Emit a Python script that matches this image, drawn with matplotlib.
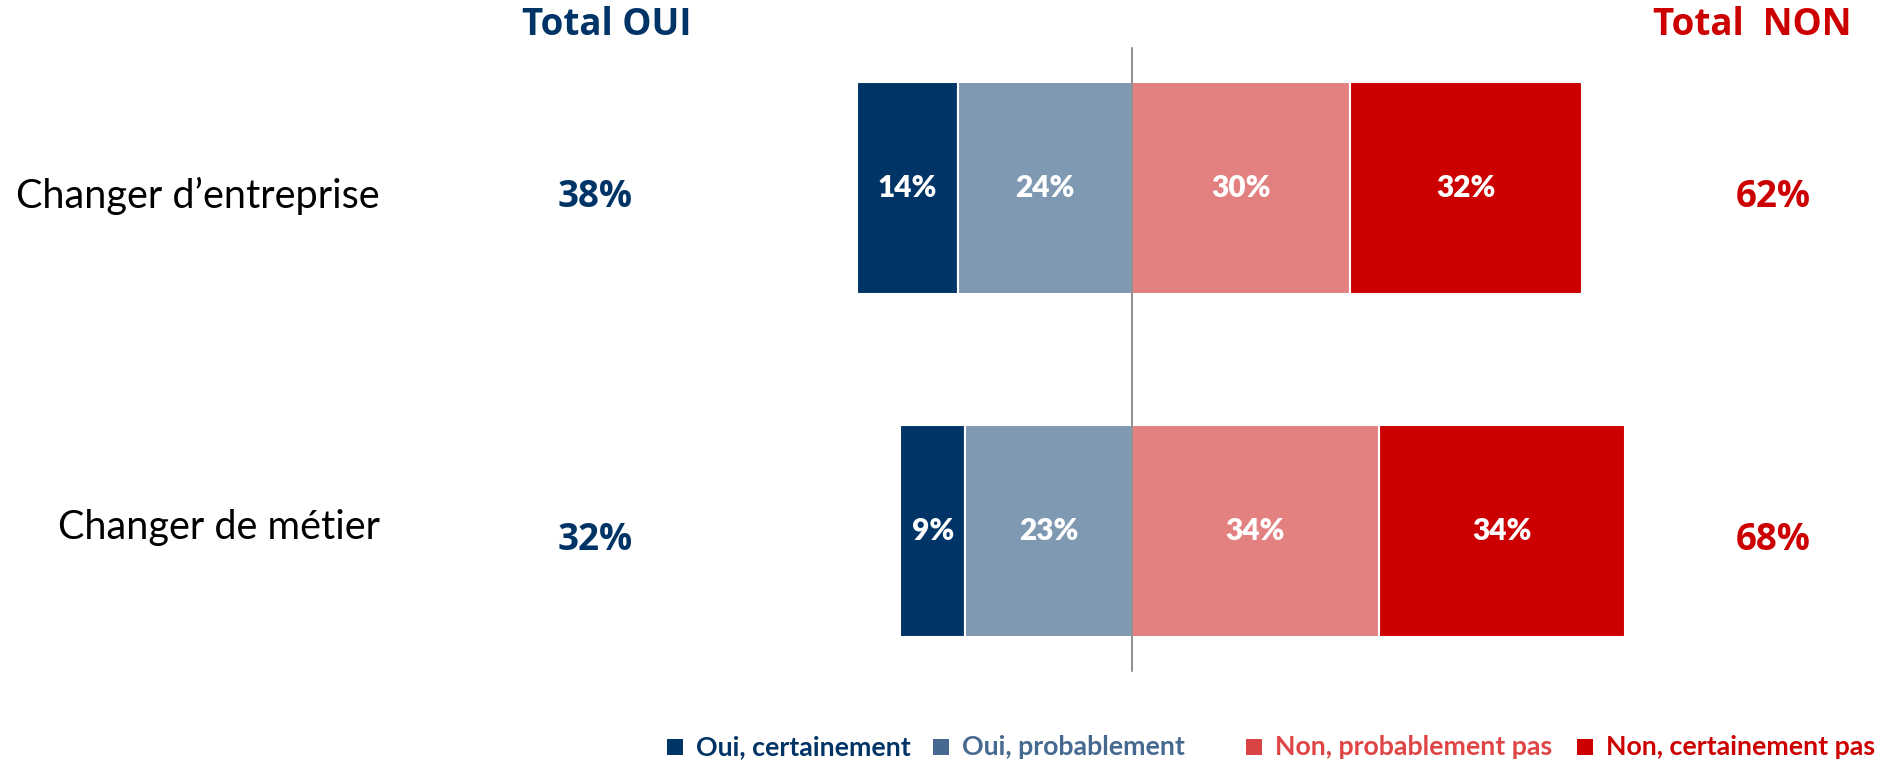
import matplotlib
matplotlib.use("Agg")
import matplotlib.pyplot as plt
from matplotlib.patches import Rectangle
import numpy as np

categories = ["Changer d’entreprise", "Changer de métier"]
oui_cert = np.array([14, 9])
oui_prob = np.array([24, 23])
non_prob = np.array([30, 34])
non_cert = np.array([32, 34])
total_oui = oui_cert + oui_prob
total_non = non_prob + non_cert

legend_labels = ["Oui, certainement", "Oui, probablement",
                 "Non, probablement pas", "Non, certainement pas"]

NAVY = "#003466"
BLUEGREY = "#7f99b2"
PINK = "#e38080"
RED = "#cc0000"

W, H = 1892, 765
fig = plt.figure(figsize=(W / 100, H / 100), dpi=100)
ax = fig.add_axes([0, 0, 1, 1])

# pixel layout: center line at x=1132, 7.25 px per %, rows at y=188 and 531
cx, ppp = 1132, 7.25
ax.set_xlim(-cx / ppp, (W - cx) / ppp)
ax.set_ylim((H - 188) / 343, -188 / 343)
ax.axis("off")

y = np.arange(len(categories))
h = 0.618
ax.barh(y, oui_cert, left=-(oui_cert + oui_prob), height=h, color=NAVY, edgecolor="white", linewidth=1.5)
ax.barh(y, oui_prob, left=-oui_prob, height=h, color=BLUEGREY, edgecolor="white", linewidth=1.5)
ax.barh(y, non_prob, left=0, height=h, color=PINK, edgecolor="white", linewidth=1.5)
ax.barh(y, non_cert, left=non_prob, height=h, color=RED, edgecolor="white", linewidth=1.5)

ax.plot([0, 0], [-0.408, 1.408], color="#707070", lw=1.1, zorder=5)

lab_font = dict(family="Lato", fontweight="heavy", fontsize=21.5, color="white", ha="center", va="center")
for i in y:
    segs = [(-(oui_cert[i] + oui_prob[i]), oui_cert[i]), (-oui_prob[i], oui_prob[i]),
            (0, non_prob[i]), (non_prob[i], non_cert[i])]
    for left, v in segs:
        ax.text(left + v / 2, i, f"{v}%", **lab_font)


def fx(px):
    return px / W


def fy(py):
    return 1 - py / H


bold_fam = ["Open Sans", "DejaVu Sans"]

# headers
fig.text(fx(607), fy(25), "Total OUI", family=bold_fam, fontweight="bold", fontsize=26.5,
         color=NAVY, ha="center", va="center")
fig.text(fx(1752), fy(25), "Total  NON", family=bold_fam, fontweight="bold", fontsize=26.5,
         color=RED, ha="center", va="center")

# category labels and totals
row_py = [196, 528]
tot_py = [197, 540]
for i, cat in enumerate(categories):
    fig.text(fx(380), fy(row_py[i]), cat, family="Lato", fontsize=28.5, color="black",
             ha="right", va="center")
    fig.text(fx(595), fy(tot_py[i]), f"{total_oui[i]}%", family=bold_fam, fontweight="bold",
             fontsize=26.5, color=NAVY, ha="center", va="center")
    fig.text(fx(1773), fy(tot_py[i]), f"{total_non[i]}%", family=bold_fam, fontweight="bold",
             fontsize=26.5, color=RED, ha="center", va="center")

# legend
sq_colors = [NAVY, "#46698f", "#d94545", RED]
txt_colors = [NAVY, "#46698f", "#e04545", RED]
sq_x = [667, 933, 1246, 1577]
for lbl, sx, sc, tc in zip(legend_labels, sq_x, sq_colors, txt_colors):
    fig.patches.append(Rectangle((fx(sx), fy(755)), 16 / W, 16 / H, transform=fig.transFigure,
                                 facecolor=sc, edgecolor="none"))
    fig.text(fx(sx + 29), fy(747), lbl, family="Lato", fontweight="bold", fontsize=19.3,
             color=tc, ha="left", va="center")

fig.savefig("out.png", dpi=100)
